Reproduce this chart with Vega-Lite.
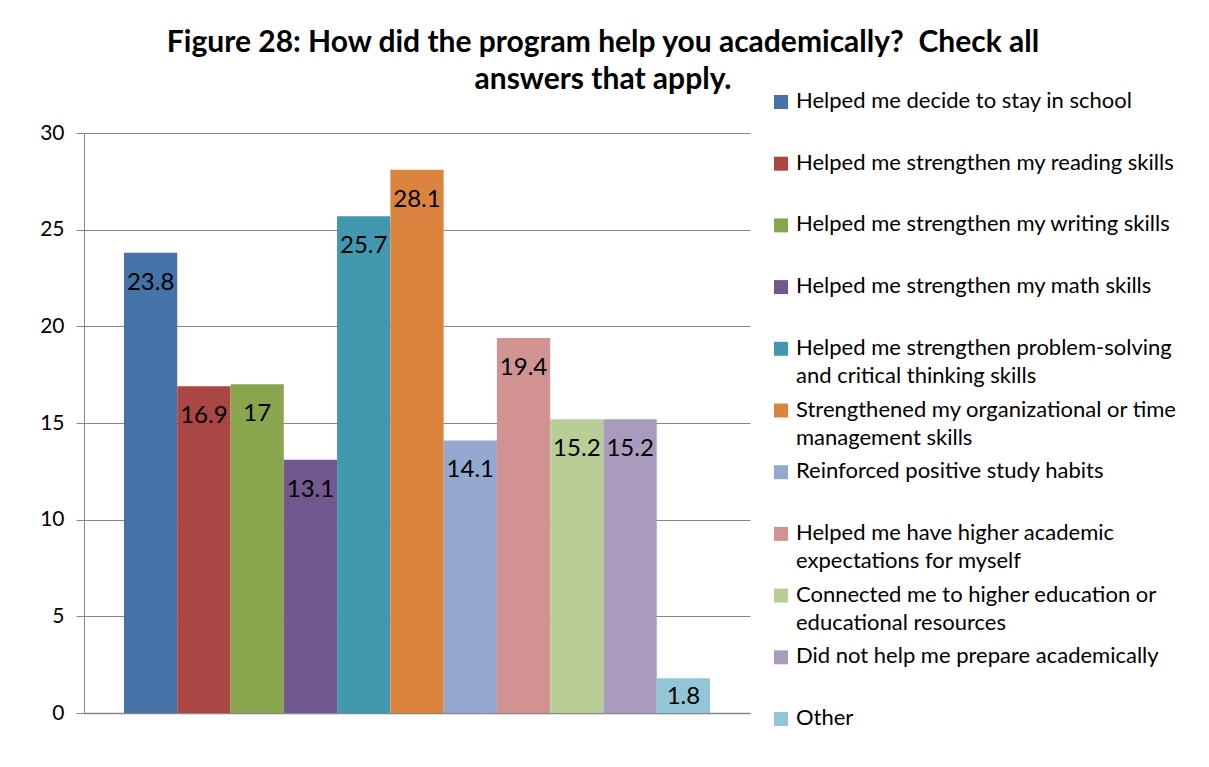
{
  "$schema": "https://vega.github.io/schema/vega-lite/v6.json",
  "width": 666,
  "height": 580,
  "autosize": {"type": "none"},
  "padding": {"left": 84, "top": 133, "right": 459, "bottom": 54},
  "background": "white",
  "config": {"view": {"stroke": null}, "font": "Lato"},
  "title": {
    "text": ["Figure 28: How did the program help you academically?\u00a0 Check all", "answers that apply."],
    "fontSize": 30,
    "fontWeight": "bold",
    "lineHeight": 37,
    "anchor": "middle",
    "dx": 186,
    "dy": 8,
    "color": "black"
  },
  "data": {
    "values": [
      {"category": "Helped me decide to stay in school", "value": 23.8},
      {"category": "Helped me strengthen my reading skills", "value": 16.9},
      {"category": "Helped me strengthen my writing skills", "value": 17},
      {"category": "Helped me strengthen my math skills", "value": 13.1},
      {"category": "Helped me strengthen problem-solving and critical thinking skills", "value": 25.7},
      {"category": "Strengthened my organizational or time management skills", "value": 28.1},
      {"category": "Reinforced positive study habits", "value": 14.1},
      {"category": "Helped me have higher academic expectations for myself", "value": 19.4},
      {"category": "Connected me to higher education or educational resources", "value": 15.2},
      {"category": "Did not help me prepare academically", "value": 15.2},
      {"category": "Other", "value": 1.8}
    ]
  },
  "encoding": {
    "x": {
      "field": "category",
      "type": "nominal",
      "sort": null,
      "scale": {"paddingInner": 0, "paddingOuter": 0.75},
      "axis": {"labels": false, "ticks": false, "title": null, "domainColor": "#868686", "domainWidth": 1.5}
    },
    "y": {
      "field": "value",
      "type": "quantitative",
      "scale": {"domain": [0, 30]},
      "axis": {
        "title": null,
        "values": [0, 5, 10, 15, 20, 25, 30],
        "gridColor": "#868686",
        "domainColor": "#868686",
        "tickColor": "#868686",
        "tickSize": 8,
        "labelFontSize": 21,
        "labelColor": "black",
        "labelPadding": 12
      }
    }
  },
  "layer": [
    {
      "mark": {"type": "bar"},
      "encoding": {
        "color": {
          "field": "category",
          "type": "nominal",
          "sort": null,
          "scale": {
            "domain": [
              "Helped me decide to stay in school",
              "Helped me strengthen my reading skills",
              "Helped me strengthen my writing skills",
              "Helped me strengthen my math skills",
              "Helped me strengthen problem-solving and critical thinking skills",
              "Strengthened my organizational or time management skills",
              "Reinforced positive study habits",
              "Helped me have higher academic expectations for myself",
              "Connected me to higher education or educational resources",
              "Did not help me prepare academically",
              "Other"
            ],
            "range": ["#4572A7", "#AA4643", "#89A54E", "#71588F", "#4198AF", "#DB843D", "#93A9CF", "#D19392", "#B9CD96", "#A99BBD", "#92C5D6"]
          },
          "legend": {
            "orient": "none",
            "legendX": 686,
            "legendY": -42,
            "title": null,
            "padding": 0,
            "symbolType": "square",
            "symbolSize": 196,
            "symbolStrokeWidth": 0,
            "labelFontSize": 22,
            "labelColor": "black",
            "labelLimit": 600,
            "labelBaseline": "top",
            "labelOffset": 4,
            "rowPadding": 11.7,
            "labelExpr": "datum.label == 'Helped me strengthen problem-solving and critical thinking skills' ? ['Helped me strengthen problem-solving', 'and critical thinking skills'] : datum.label == 'Strengthened my organizational or time management skills' ? ['Strengthened my organizational or time', 'management skills'] : datum.label == 'Helped me have higher academic expectations for myself' ? ['Helped me have higher academic', 'expectations for myself'] : datum.label == 'Connected me to higher education or educational resources' ? ['Connected me to higher education or', 'educational resources'] : [datum.label, ' ']",
            "encode": {"labels": {"update": {"lineHeight": {"value": 28}, "dy": {"value": -11}}}}
          }
        }
      }
    },
    {
      "transform": [{"filter": "datum.value >= 5"}],
      "mark": {"type": "text", "baseline": "middle", "dy": 30, "fontSize": 24, "color": "black"},
      "encoding": {"text": {"field": "value", "type": "quantitative"}}
    },
    {
      "transform": [{"filter": "datum.value < 5"}],
      "mark": {"type": "text", "baseline": "middle", "dy": 19, "fontSize": 24, "color": "black"},
      "encoding": {"text": {"field": "value", "type": "quantitative"}}
    }
  ]
}
